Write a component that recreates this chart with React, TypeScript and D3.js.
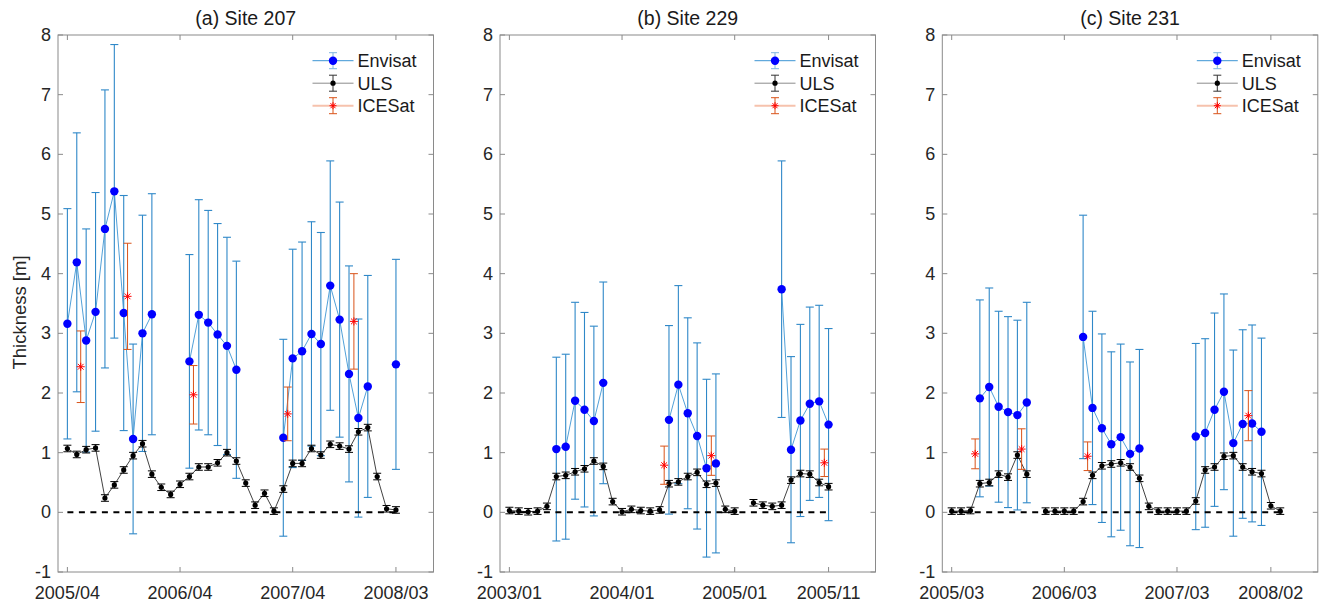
import React, { useEffect, useRef } from 'react';
import * as d3 from 'd3';

// sea ice thickness at three mooring sites: Envisat vs ULS vs ICESat
// values indexed by month from the first x tick of each panel, null = no data

const titles = ['(a) Site 207', '(b) Site 229', '(c) Site 231'];
const yTicks = [-1, 0, 1, 2, 3, 4, 5, 6, 7, 8];

const tickMonthsA = [0, 12, 24, 35];
const tickLabelsA = ['2005/04', '2006/04', '2007/04', '2008/03'];
const tickMonthsB = [0, 12, 24, 34];
const tickLabelsB = ['2003/01', '2004/01', '2005/01', '2005/11'];
const tickMonthsC = [0, 12, 24, 34];
const tickLabelsC = ['2005/03', '2006/03', '2007/03', '2008/02'];

const ulsA = [1.07, 0.97, 1.05, 1.08, 0.24, 0.46, 0.71, 0.95, 1.15, 0.64, 0.42, 0.30,
  0.47, 0.60, 0.76, 0.76, 0.83, 1.00, 0.86, 0.49, 0.12, 0.32, 0.02, 0.39,
  0.82, 0.82, 1.07, 0.96, 1.14, 1.11, 1.06, 1.35, 1.42, 0.60, 0.06, 0.04];
const envA = [3.16, 4.19, 2.88, 3.36, 4.75, 5.38, 3.34, 1.23, 3.00, 3.32, null, null,
  null, 2.53, 3.31, 3.18, 2.98, 2.79, 2.39, null, null, null, null, 1.25,
  2.58, 2.70, 2.99, 2.82, 3.80, 3.23, 2.32, 1.58, 2.11, null, null, 2.48];
const envErrA = [1.93, 2.17, 1.87, 2.0, 2.33, 2.46, 1.97, 1.59, 1.98, 2.02, null, null,
  null, 1.79, 1.93, 1.88, 1.86, 1.82, 1.82, null, null, null, null, 1.65,
  1.83, 1.83, 1.88, 1.87, 2.09, 1.97, 1.81, 1.66, 1.86, null, null, 1.76];
const iceMonthsA = [1.42, 6.41, 13.43, 23.47, 30.52];
const iceA = [2.44, 3.62, 1.97, 1.65, 3.20];
const iceErrA = [0.60, 0.89, 0.49, 0.45, 0.80];

const ulsB = [0.03, 0.02, 0.01, 0.02, 0.10, 0.60, 0.62, 0.68, 0.73, 0.86, 0.77, 0.18,
  0.01, 0.05, 0.03, 0.02, 0.04, 0.48, 0.51, 0.60, 0.67, 0.47, 0.49, 0.05,
  0.02, null, 0.16, 0.12, 0.10, 0.12, 0.54, 0.65, 0.64, 0.50, 0.43];
const envB = [null, null, null, null, null, 1.06, 1.10, 1.87, 1.72, 1.53, 2.17, null,
  null, null, null, null, null, 1.55, 2.14, 1.66, 1.28, 0.74, 0.82, null,
  null, null, null, null, null, 3.74, 1.05, 1.54, 1.82, 1.86, 1.47];
const envErrB = [null, null, null, null, null, 1.54, 1.55, 1.65, 1.63, 1.59, 1.69, null,
  null, null, null, null, null, 1.58, 1.66, 1.60, 1.56, 1.49, 1.50, null,
  null, null, null, null, null, 2.15, 1.56, 1.61, 1.62, 1.61, 1.61];
const iceMonthsB = [16.49, 21.51, 33.55];
const iceB = [0.79, 0.95, 0.83];
const iceErrB = [0.32, 0.33, 0.23];

const ulsC = [0.02, 0.02, 0.03, 0.48, 0.50, 0.64, 0.59, 0.96, 0.64, null, 0.02, 0.02,
  0.02, 0.02, 0.18, 0.62, 0.78, 0.81, 0.83, 0.76, 0.57, 0.10, 0.02, 0.02,
  0.02, 0.02, 0.19, 0.71, 0.76, 0.94, 0.95, 0.76, 0.68, 0.65, 0.11, 0.02];
const envC = [null, null, null, 1.91, 2.10, 1.77, 1.68, 1.63, 1.84, null, null, null,
  null, null, 2.94, 1.75, 1.41, 1.14, 1.26, 0.98, 1.07, null, null, null,
  null, null, 1.27, 1.33, 1.72, 2.02, 1.16, 1.48, 1.49, 1.35];
const envErrC = [null, null, null, 1.65, 1.66, 1.60, 1.60, 1.59, 1.68, null, null, null,
  null, null, 2.04, 1.62, 1.58, 1.55, 1.56, 1.54, 1.66, null, null, null,
  null, null, 1.56, 1.58, 1.62, 1.64, 1.56, 1.58, 1.65, 1.57];
const iceMonthsC = [2.5, 7.45, 14.48, 31.6];
const iceC = [0.98, 1.06, 0.94, 1.62];
const iceErrC = [0.25, 0.34, 0.24, 0.42];

const ULS_ERR = 0.055;

const panels = [
  { title: titles[0], left: 58, uls: ulsA, env: envA, envErr: envErrA, iceM: iceMonthsA, ice: iceA, iceErr: iceErrA, ticks: tickMonthsA, labels: tickLabelsA },
  { title: titles[1], left: 500, uls: ulsB, env: envB, envErr: envErrB, iceM: iceMonthsB, ice: iceB, iceErr: iceErrB, ticks: tickMonthsB, labels: tickLabelsB },
  { title: titles[2], left: 942.3, uls: ulsC, env: envC, envErr: envErrC, iceM: iceMonthsC, ice: iceC, iceErr: iceErrC, ticks: tickMonthsC, labels: tickLabelsC },
];

const width = 1326;
const height = 606;
const top = 35;
const bottom = 572;
const panelW = 375.5;
const font = '"Liberation Sans", Arial, Helvetica, sans-serif';

const BLUE = '#2f88c8';
const LINE_BLUE = '#3d95d4';
const ORANGE = '#D95319';

function errBar(g, x, y0, y1, color, cap = 4) {
  g.append('line').attr('x1', x).attr('x2', x).attr('y1', y0).attr('y2', y1).attr('stroke', color);
  g.append('line').attr('x1', x - cap).attr('x2', x + cap).attr('y1', y0).attr('y2', y0).attr('stroke', color);
  g.append('line').attr('x1', x - cap).attr('x2', x + cap).attr('y1', y1).attr('y2', y1).attr('stroke', color);
}

function asterisk(g, x, y, s = 4) {
  const a = g.append('g').attr('stroke', '#ff0000').attr('stroke-width', 1);
  a.append('line').attr('x1', x - s).attr('x2', x + s).attr('y1', y).attr('y2', y);
  a.append('line').attr('x1', x).attr('x2', x).attr('y1', y - s).attr('y2', y + s);
  const d = s * 0.72;
  a.append('line').attr('x1', x - d).attr('x2', x + d).attr('y1', y - d).attr('y2', y + d);
  a.append('line').attr('x1', x - d).attr('x2', x + d).attr('y1', y + d).attr('y2', y - d);
}

const App = () => {
  const domref = useRef(null);

  useEffect(() => {
    d3.select(domref.current).selectAll('*').remove();
    const svg = d3.select(domref.current);

    panels.forEach((p, pi) => {
      const right = p.left + panelW;
      const x = d3.scaleLinear().domain([-1, 39]).range([p.left, right]);
      const y = d3.scaleLinear().domain([-1, 8]).range([bottom, top]);
      const g = svg.append('g');

      // axes box + inward ticks on all sides
      g.append('rect')
        .attr('x', p.left).attr('y', top)
        .attr('width', panelW).attr('height', bottom - top)
        .attr('fill', 'none').attr('stroke', '#8a8a8a').attr('stroke-width', 1);

      const tk = g.append('g').attr('stroke', '#8a8a8a');
      yTicks.forEach(v => {
        tk.append('line').attr('x1', p.left).attr('x2', p.left + 5).attr('y1', y(v)).attr('y2', y(v));
        tk.append('line').attr('x1', right).attr('x2', right - 5).attr('y1', y(v)).attr('y2', y(v));
      });
      p.ticks.forEach(m => {
        tk.append('line').attr('x1', x(m)).attr('x2', x(m)).attr('y1', bottom).attr('y2', bottom - 5);
        tk.append('line').attr('x1', x(m)).attr('x2', x(m)).attr('y1', top).attr('y2', top + 5);
      });

      g.append('g')
        .attr('font-family', font).attr('font-size', 18).attr('fill', '#262626')
        .selectAll('text').data(yTicks).join('text')
        .attr('x', p.left - 7).attr('y', d => y(d)).attr('dy', '0.34em')
        .attr('text-anchor', 'end').text(d => d);

      g.append('g')
        .attr('font-family', font).attr('font-size', 18).attr('fill', '#262626')
        .selectAll('text').data(p.ticks).join('text')
        .attr('x', d => x(d)).attr('y', bottom + 26.5)
        .attr('text-anchor', 'middle').text((d, i) => p.labels[i]);

      g.append('text')
        .attr('x', p.left + panelW / 2).attr('y', 25)
        .attr('text-anchor', 'middle')
        .attr('font-family', font).attr('font-size', 19.5).attr('fill', '#1a1a1a')
        .text(p.title);

      if (pi === 0) {
        g.append('text')
          .attr('transform', `translate(26,${(top + bottom) / 2 + 9}) rotate(-90)`)
          .attr('text-anchor', 'middle')
          .attr('font-family', font).attr('font-size', 18.5).attr('fill', '#262626')
          .text('Thickness [m]');
      }

      // Envisat
      const envG = g.append('g').attr('stroke-width', 1.1);
      p.env.forEach((v, m) => {
        if (v == null) return;
        const e = p.envErr[m];
        errBar(envG, x(m), y(v + e), y(v - e), BLUE);
      });
      envG.append('path')
        .datum(p.env)
        .attr('fill', 'none').attr('stroke', LINE_BLUE).attr('stroke-width', 0.9)
        .attr('d', d3.line().defined(d => d != null).x((d, i) => x(i)).y(d => y(d)));
      envG.selectAll('circle')
        .data(p.env.map((v, m) => ({ v, m })).filter(d => d.v != null))
        .join('circle')
        .attr('cx', d => x(d.m)).attr('cy', d => y(d.v)).attr('r', 4.2)
        .attr('fill', '#0000ff').attr('stroke', 'none');

      // ULS
      const ulsG = g.append('g').attr('stroke-width', 1);
      p.uls.forEach((v, m) => {
        if (v == null) return;
        errBar(ulsG, x(m), y(v + ULS_ERR), y(v - ULS_ERR), '#000', 4);
      });
      ulsG.append('path')
        .datum(p.uls)
        .attr('fill', 'none').attr('stroke', '#111').attr('stroke-width', 0.8)
        .attr('d', d3.line().defined(d => d != null).x((d, i) => x(i)).y(d => y(d)));
      ulsG.selectAll('circle')
        .data(p.uls.map((v, m) => ({ v, m })).filter(d => d.v != null))
        .join('circle')
        .attr('cx', d => x(d.m)).attr('cy', d => y(d.v)).attr('r', 2.6)
        .attr('fill', '#000');

      // ICESat
      const iceG = g.append('g').attr('stroke-width', 1);
      p.ice.forEach((v, i) => {
        const e = p.iceErr[i];
        errBar(iceG, x(p.iceM[i]), y(v + e), y(v - e), ORANGE);
        asterisk(iceG, x(p.iceM[i]), y(v));
      });

      // zero line
      const firstM = p.uls.findIndex(d => d != null);
      const lastM = p.uls.length - 1;
      g.append('line')
        .attr('x1', x(firstM)).attr('x2', x(lastM))
        .attr('y1', y(0)).attr('y2', y(0))
        .attr('stroke', '#000').attr('stroke-width', 2)
        .attr('stroke-dasharray', '6,5.5');

      // legend
      const lx0 = right - 121;
      const lx1 = right - 80;
      const lc = (lx0 + lx1) / 2;
      const rows = [top + 25.7, top + 48.2, top + 70.7];
      const lg = g.append('g');

      lg.append('line').attr('x1', lx0).attr('x2', lx1).attr('y1', rows[0]).attr('y2', rows[0]).attr('stroke', LINE_BLUE);
      errBar(lg, lc, rows[0] - 8, rows[0] + 8, '#7fb6e0', 4);
      lg.append('circle').attr('cx', lc).attr('cy', rows[0]).attr('r', 4.2).attr('fill', '#0000ff');

      lg.append('line').attr('x1', lx0).attr('x2', lx1).attr('y1', rows[1]).attr('y2', rows[1]).attr('stroke', '#8c8c8c');
      errBar(lg, lc, rows[1] - 8, rows[1] + 8, '#333', 4);
      lg.append('circle').attr('cx', lc).attr('cy', rows[1]).attr('r', 2.6).attr('fill', '#000');

      lg.append('line').attr('x1', lx0).attr('x2', lx1).attr('y1', rows[2]).attr('y2', rows[2]).attr('stroke', '#f6c2ad').attr('stroke-width', 2);
      errBar(lg, lc, rows[2] - 8, rows[2] + 8, ORANGE, 4);
      asterisk(lg, lc, rows[2], 3.5);

      lg.selectAll('text').data(['Envisat', 'ULS', 'ICESat']).join('text')
        .attr('x', right - 76).attr('y', (d, i) => rows[i]).attr('dy', '0.36em')
        .attr('font-family', font).attr('font-size', 18).attr('fill', '#1a1a1a')
        .text(d => d);
    });
  }, []);

  return (
    <svg
      ref={domref}
      width={width}
      height={height}
      style={{ position: 'absolute', left: 0, top: 0, background: '#fff' }}
    />
  );
};

export default App;
